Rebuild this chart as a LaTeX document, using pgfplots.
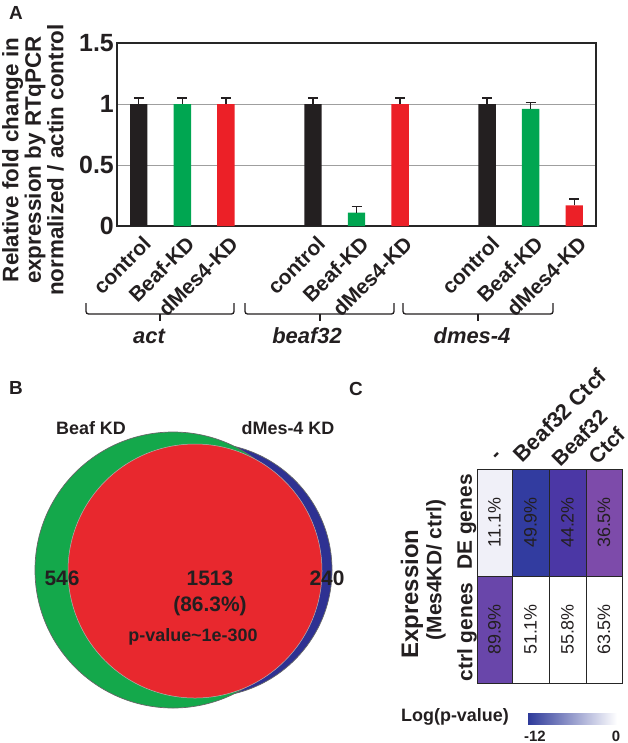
\documentclass[border=0pt]{standalone}
\usepackage{pgfplots}
\pgfplotsset{compat=1.18}
\usepackage{fontspec}
\setmainfont{Liberation Sans}
\newcommand\fs[1]{\fontsize{#1}{#1}\selectfont}
\definecolor{txt}{RGB}{35,31,32}
\definecolor{barblack}{RGB}{35,31,32}
\definecolor{bargreen}{RGB}{0,166,81}
\definecolor{barred}{RGB}{236,32,39}
\definecolor{vgreen}{RGB}{20,168,75}
\definecolor{vred}{RGB}{232,40,46}
\definecolor{vblue}{RGB}{46,49,146}
\definecolor{hA}{RGB}{240,240,248}
\definecolor{hB}{RGB}{50,60,160}
\definecolor{hC}{RGB}{75,55,165}
\definecolor{hD}{RGB}{125,75,170}
\definecolor{hE}{RGB}{105,70,170}
\definecolor{cbblue}{RGB}{46,58,154}
\begin{document}
\begin{tikzpicture}[x=1bp,y=1bp]
\path[use as bounding box] (0,0) rectangle (628,-743);

% ---------------- Panel A ----------------
\begin{axis}[at={(117bp,-226bp)}, anchor=south west, scale only axis,
  width=479bp, height=183bp,
  xmin=-0.5, xmax=10.5, ymin=0, ymax=1.5,
  ytick={0,0.5,1,1.5}, yticklabels={0,0.5,1,1.5},
  xtick={0,1,2,4,5,6,8,9,10},
  xticklabels={control,Beaf-KD,dMes4-KD,control,Beaf-KD,dMes4-KD,control,Beaf-KD,dMes4-KD},
  x tick label style={rotate=45, anchor=north east, font=\bfseries\fs{21}, text=txt, inner sep=1bp, xshift=-3bp, yshift=-7bp},
  y tick label style={font=\bfseries\fs{25}, text=txt, inner sep=2bp, xshift=-1bp},
  major tick length=0pt,
  ymajorgrids, grid style={line width=1bp, color=gray!75},
  axis line style={line width=1.2bp, color=black!85},
  clip=false,
  error bars/y dir=plus, error bars/y explicit,
  error bars/error bar style={draw=txt, line width=1.4bp},
  error bars/error mark options={draw=txt, line width=1.4bp, mark size=5bp, rotate=90},
]
\addplot[ybar, bar width=0.4, bar shift=0pt, fill=barblack, draw=none]
  coordinates {(0,1) +- (0,0.05) (4,1) +- (0,0.05) (8,1) +- (0,0.05)};
\addplot[ybar, bar width=0.4, bar shift=0pt, fill=bargreen, draw=none]
  coordinates {(1,1) +- (0,0.05) (5,0.11) +- (0,0.05) (9,0.96) +- (0,0.05)};
\addplot[ybar, bar width=0.4, bar shift=0pt, fill=barred, draw=none]
  coordinates {(2,1) +- (0,0.05) (6,1) +- (0,0.05) (10,0.17) +- (0,0.05)};
\end{axis}

% ---------------- Panels B and C (pixel-mapped hidden axis) ----------------
\begin{axis}[at={(0bp,-743bp)}, anchor=south west, scale only axis,
  width=628bp, height=743bp, xmin=0, xmax=628, ymin=-743, ymax=0,
  hide axis, clip=false]
% Venn circles
\addplot[only marks, mark=*, mark size=127bp, mark options={fill=vblue, draw=black!60, line width=0.7bp}] coordinates {(205,-570)};
\addplot[only marks, mark=*, mark size=138bp, mark options={fill=vgreen, draw=black!60, line width=0.7bp}] coordinates {(173,-570)};
\addplot[only marks, mark=*, mark size=127bp, mark options={fill=vred, draw=black!30, line width=0.5bp}] coordinates {(195,-571)};
% heatmap cells (row DE)
\addplot[fill=hA, draw=black!85, line width=1bp] coordinates {(477,-469) (512,-469) (512,-576) (477,-576) (477,-469)};
\addplot[fill=hB, draw=black!85, line width=1bp] coordinates {(512,-469) (549,-469) (549,-576) (512,-576) (512,-469)};
\addplot[fill=hC, draw=black!85, line width=1bp] coordinates {(549,-469) (586,-469) (586,-576) (549,-576) (549,-469)};
\addplot[fill=hD, draw=black!85, line width=1bp] coordinates {(586,-469) (622,-469) (622,-576) (586,-576) (586,-469)};
% heatmap cells (row ctrl)
\addplot[fill=hE, draw=black!85, line width=1bp] coordinates {(477,-576) (512,-576) (512,-683) (477,-683) (477,-576)};
\addplot[fill=white, draw=black!85, line width=1bp] coordinates {(512,-576) (549,-576) (549,-683) (512,-683) (512,-576)};
\addplot[fill=white, draw=black!85, line width=1bp] coordinates {(549,-576) (586,-576) (586,-683) (549,-683) (549,-576)};
\addplot[fill=white, draw=black!85, line width=1bp] coordinates {(586,-576) (622,-576) (622,-683) (586,-683) (586,-576)};
% colour bar
\addplot[draw=none, left color=cbblue, right color=white] coordinates {(528,-713) (617,-713) (617,-724) (528,-724) (528,-713)};
\end{axis}

% ---------------- Text ----------------
\begin{scope}[every node/.style={text=txt, inner sep=0pt}]
\node[font=\bfseries\fs{19}] at (16,-13) {A};
\node[font=\bfseries\fs{19}] at (16,-388) {B};
\node[font=\bfseries\fs{19}] at (356,-389) {C};
% Panel A y label
\node[rotate=90, align=center, font=\bfseries\fontsize{22.5}{22.5}\selectfont] at (33,-160)
  {Relative fold change in\\expression by RTqPCR\\normalized / actin control};
% braces
\begin{scope}[line width=1.3bp, draw=txt, rounded corners=2.5bp]
\draw[txt] (86,-303) -- (86,-314) -- (234,-314) -- (234,-303);
\draw[txt] (245,-303) -- (245,-314) -- (394,-314) -- (394,-303);
\draw[txt] (403,-303) -- (403,-314) -- (553,-314) -- (553,-303);
\end{scope}
\draw[txt, line width=1.3bp] (160,-314) -- (160,-321);
\draw[txt, line width=1.3bp] (320,-314) -- (320,-321);
\draw[txt, line width=1.3bp] (478,-314) -- (478,-321);
\node[font=\bfseries\itshape\fs{22}] at (149,-336) {act};
\node[font=\bfseries\itshape\fs{22}] at (307,-336) {beaf32};
\node[font=\bfseries\itshape\fs{22}] at (472,-336) {dmes-4};
% Venn text
\node[font=\bfseries\fs{18}] at (91,-428) {Beaf KD};
\node[font=\bfseries\fs{18}] at (288,-428) {dMes-4 KD};
\node[font=\bfseries\fs{21}] at (62,-578) {546};
\node[font=\bfseries\fs{21}] at (210,-578) {1513};
\node[font=\bfseries\fs{21}] at (210,-606) {(86.3\%)};
\node[font=\bfseries\fs{18}] at (193,-637) {p-value\textasciitilde 1e-300};
\node[font=\bfseries\fs{21}] at (327,-578) {240};
% Heatmap text
\foreach \x/\t in {494.5/11.1\%, 530.5/49.9\%, 567.5/44.2\%, 604/36.5\%}
  \node[rotate=90, font=\fs{18}] at (\x,-522.5) {\t};
\foreach \x/\t in {494.5/89.9\%, 530.5/51.1\%, 567.5/55.8\%, 604/63.5\%}
  \node[rotate=90, font=\fs{18}] at (\x,-629.5) {\t};
\node[rotate=45, anchor=west, font=\bfseries\fs{21}] at (495,-459) {-};
\node[rotate=45, anchor=west, font=\bfseries\fs{22}] at (517,-458) {Beaf32 Ctcf};
\node[rotate=45, anchor=west, font=\bfseries\fs{21}] at (555,-462) {Beaf32};
\node[rotate=45, anchor=west, font=\bfseries\fs{21}] at (592,-460) {Ctcf};
\node[rotate=90, font=\bfseries\fs{21}] at (467,-522) {DE genes};
\node[rotate=90, font=\bfseries\fs{21}] at (467,-632) {ctrl genes};
\node[rotate=90, font=\bfseries\fs{24}] at (412,-594) {Expression};
\node[rotate=90, font=\bfseries\fs{21}] at (436,-570) {(Mes4KD/ ctrl)};
% colour bar labels
\node[font=\bfseries\fs{18}] at (455,-717) {Log(p-value)};
\node[anchor=base, font=\bfseries\fs{15}] at (535,-741) {-12};
\node[anchor=base, font=\bfseries\fs{15}] at (616,-741) {0};
\end{scope}
\end{tikzpicture}
\end{document}
